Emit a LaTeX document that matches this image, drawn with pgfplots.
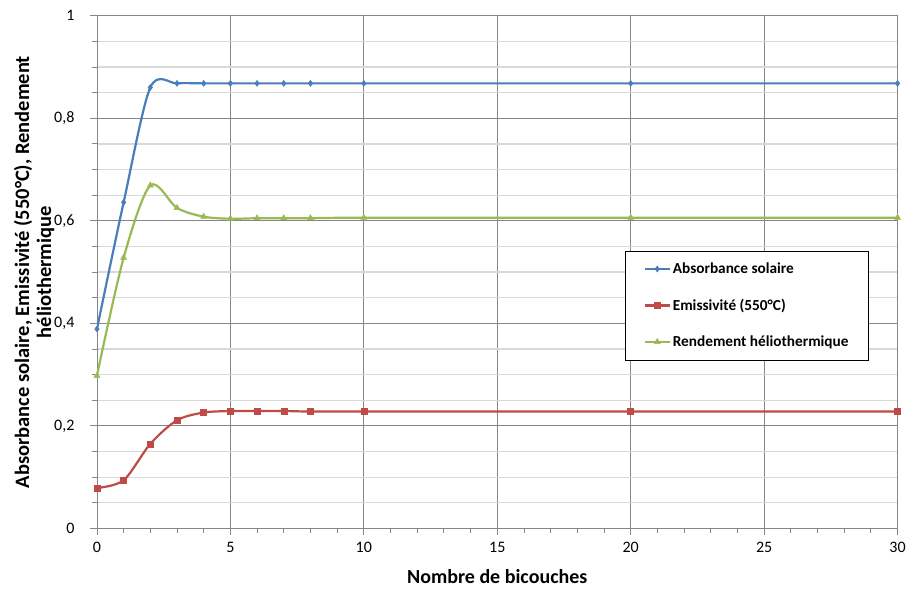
\documentclass[border=0pt]{standalone}
\usepackage{pgfplots}
\pgfplotsset{compat=1.18}
\usepackage{fontspec}
\setmainfont{Carlito}
\definecolor{cblue}{HTML}{4A7EBB}
\definecolor{cred}{HTML}{BE4B48}
\definecolor{cgreen}{HTML}{98B954}
\definecolor{gmaj}{HTML}{868686}
\definecolor{gmin}{HTML}{D9D9D9}
\begin{document}
\begin{tikzpicture}
\begin{axis}[
  scale only axis,
  width=801pt, height=513pt,
  xmin=0, xmax=30, ymin=0, ymax=1,
  xtick={0,5,...,30},
  minor xtick={1,2,3,4,6,7,8,9,11,12,13,14,16,17,18,19,21,22,23,24,26,27,28,29},
  ytick={0,0.2,...,1},
  minor ytick={0.05,0.1,0.15,0.25,0.3,0.35,0.45,0.5,0.55,0.65,0.7,0.75,0.85,0.9,0.95},
  xtick pos=bottom, ytick pos=left,
  tick align=outside,
  major tick length=7pt, minor tick length=5pt,
  every tick/.style={gmaj, line width=0.8pt},
  xmajorgrids, ymajorgrids, yminorgrids,
  major grid style={gmaj, line width=0.8pt},
  minor grid style={gmin, line width=1.3pt},
  axis line style={gmaj, line width=0.9pt},
  /pgf/number format/.cd, use comma, fixed, assume math mode=true,
  /pgfplots/.cd,
  ticklabel style={font=\fontsize{16}{18}\selectfont, text=black},
  yticklabel style={xshift=-12pt},
  xticklabel style={yshift=-3pt},
  xlabel={Nombre de bicouches},
  xlabel style={font=\fontsize{20}{22}\selectfont\bfseries, yshift=-10pt},
  ylabel={Absorbance solaire, Emissivité (550°C), Rendement\\héliothermique},
  ylabel style={font=\fontsize{20.5}{22}\selectfont\bfseries, align=center, yshift=-7pt},
  legend style={at={(0.66,0.542)}, anchor=north west, draw=black, line width=0.6pt,
    font=\fontsize{15.3}{18}\selectfont\bfseries, row sep=20pt,
    inner xsep=18pt, inner ysep=10pt, cells={anchor=west}},
  legend image code/.code={\draw[mark repeat=2,mark phase=2] plot coordinates {(0pt,0pt)(12.5pt,0pt)(25pt,0pt)};},
  every axis plot/.append style={line width=2.2pt, smooth, tension=0.5},
]
\addplot[cblue, mark=diamond*, mark size=3pt, mark options={line width=0.5pt}] coordinates {
(0,0.389) (1,0.636) (2,0.860) (3,0.868) (4,0.868) (5,0.868) (6,0.868) (7,0.868) (8,0.868) (10,0.868) (20,0.868) (30,0.868)};
\addlegendentry{Absorbance solaire}
\addplot[cred, mark=square*, mark size=3pt, mark options={line width=0.5pt}] coordinates {
(0,0.079) (1,0.094) (2,0.165) (3,0.211) (4,0.226) (5,0.229) (6,0.229) (7,0.229) (8,0.228) (10,0.228) (20,0.228) (30,0.228)};
\addlegendentry{Emissivité (550°C)}
\addplot[cgreen, mark=triangle*, mark size=3.5pt, mark options={line width=0.5pt}] coordinates {
(0,0.298) (1,0.528) (2,0.669) (3,0.625) (4,0.608) (5,0.604) (6,0.605) (7,0.605) (8,0.605) (10,0.606) (20,0.606) (30,0.606)};
\addlegendentry{Rendement héliothermique}
\end{axis}
\useasboundingbox ([shift={(-97pt,-63pt)}]current axis.south west) rectangle ([shift={(11pt,15.7pt)}]current axis.north east);
\end{tikzpicture}
\end{document}
